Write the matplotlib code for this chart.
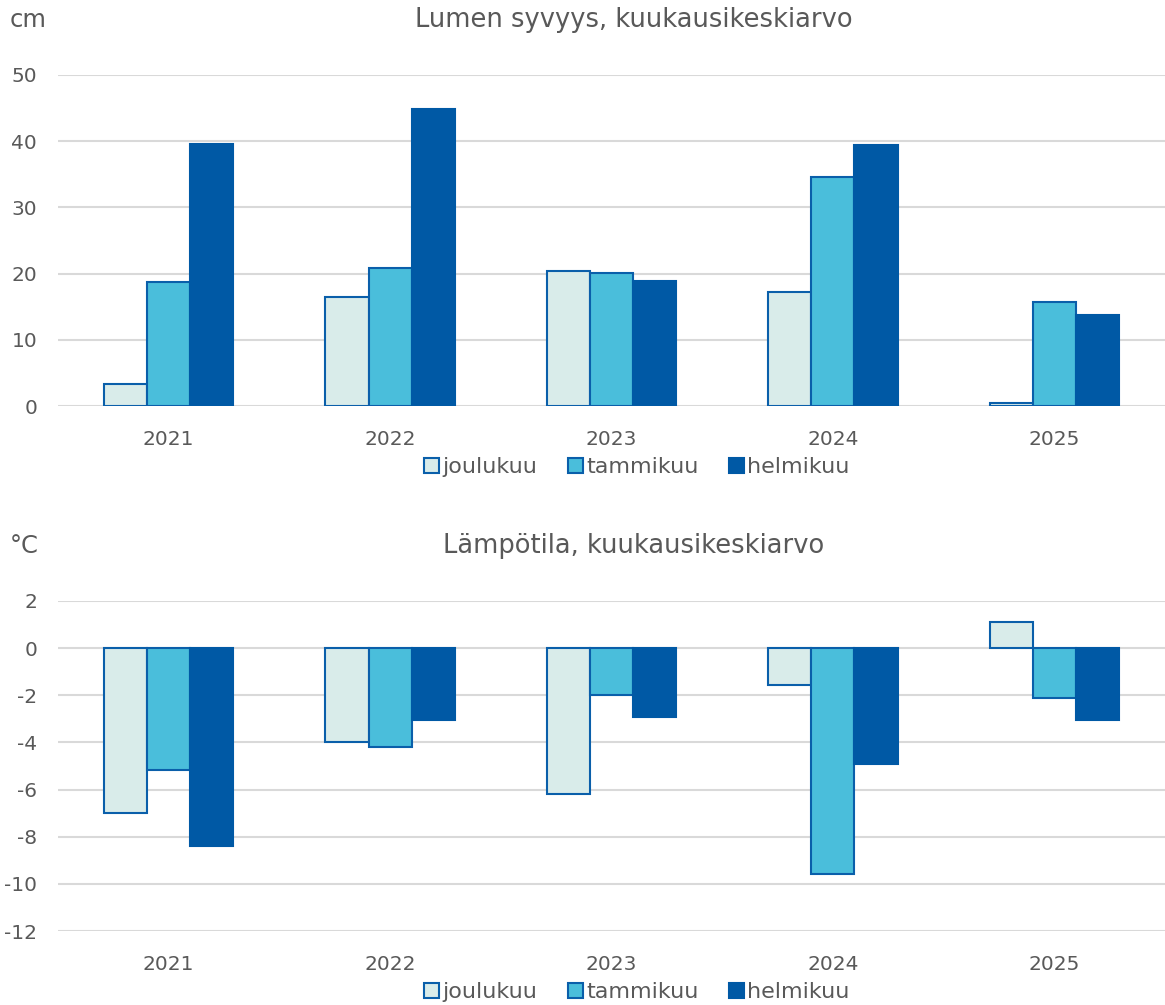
import numpy as np
import matplotlib.pyplot as plt
from matplotlib.patches import Patch

# Data
years = ["2021", "2022", "2023", "2024", "2025"]
months = ["joulukuu", "tammikuu", "helmikuu"]
snow_joulu = [3.3, 16.5, 20.4, 17.2, 0.5]
snow_tammi = [18.7, 20.8, 20.1, 34.6, 15.7]
snow_helmi = [39.6, 44.9, 18.9, 39.4, 13.7]
temp_joulu = [-7.0, -4.0, -6.2, -1.55, 1.1]
temp_tammi = [-5.15, -4.2, -2.0, -9.6, -2.1]
temp_helmi = [-8.4, -3.05, -2.9, -4.9, -3.05]

# Style
plt.rcParams["font.family"] = ["DejaVu Sans"]
plt.rcParams["axes.unicode_minus"] = False
text_color = "#595959"
grid_color = "#D9D9D9"
edge_blue = "#0A5FAA"
fills = ["#D9ECEA", "#4ABEDB", "#0059A5"]
bar_w = 0.195
fs = 14.5

fig = plt.figure(figsize=(11.65, 10.05), dpi=100)


def draw_panel(ax, series, ylim, yticks):
    x = np.arange(len(years))
    for i, vals in enumerate(series):
        ax.bar(
            x + (i - 1) * bar_w,
            vals,
            width=bar_w,
            color=fills[i],
            edgecolor=edge_blue if i < 2 else fills[i],
            linewidth=1.5,
            zorder=3,
        )
    ax.set_xlim(-0.5, len(years) - 0.5)
    ax.set_ylim(*ylim)
    ax.set_yticks(yticks)
    ax.set_xticks(x)
    ax.set_xticklabels(years)
    ax.grid(axis="y", color=grid_color, linewidth=1.5, zorder=0)
    ax.tick_params(length=0, labelsize=fs, labelcolor=text_color)
    ax.tick_params(axis="y", pad=15)
    ax.tick_params(axis="x", pad=17)
    for s in ax.spines.values():
        s.set_visible(False)


legend_handles = [
    Patch(facecolor=fills[0], edgecolor=edge_blue, linewidth=1.5, label=months[0]),
    Patch(facecolor=fills[1], edgecolor=edge_blue, linewidth=1.5, label=months[1]),
    Patch(facecolor=fills[2], edgecolor=fills[2], linewidth=1.5, label=months[2]),
]


def add_legend(y):
    fig.legend(
        handles=legend_handles,
        loc="center",
        bbox_to_anchor=(637 / 1165, y),
        ncol=3,
        frameon=False,
        fontsize=fs + 1.5,
        labelcolor=text_color,
        handlelength=0.65,
        handleheight=0.65,
        handletextpad=0.15,
        columnspacing=1.4,
    )


# Top panel: snow depth
ax1 = fig.add_axes([58 / 1165, 599 / 1005, 1 - 58 / 1165, 331 / 1005])
draw_panel(ax1, [snow_joulu, snow_tammi, snow_helmi], (0, 50), np.arange(0, 51, 10))
fig.text(634 / 1165, 1 - 20 / 1005, "Lumen syvyys, kuukausikeskiarvo",
         ha="center", va="center", fontsize=fs + 4, color=text_color)
fig.text(10 / 1165, 1 - 20 / 1005, "cm", ha="left", va="center",
         fontsize=fs + 3, color=text_color)
add_legend(1 - 467 / 1005)

# Bottom panel: temperature
ax2 = fig.add_axes([58 / 1165, 74 / 1005, 1 - 58 / 1165, 330 / 1005])
draw_panel(ax2, [temp_joulu, temp_tammi, temp_helmi], (-12, 2), np.arange(-12, 3, 2))
fig.text(634 / 1165, 1 - 546 / 1005, "Lämpötila, kuukausikeskiarvo",
         ha="center", va="center", fontsize=fs + 4, color=text_color)
fig.text(10 / 1165, 1 - 546 / 1005, "°C", ha="left", va="center",
         fontsize=fs + 3, color=text_color)
add_legend(1 - 992 / 1005)

fig.savefig("out.png", dpi=100)
